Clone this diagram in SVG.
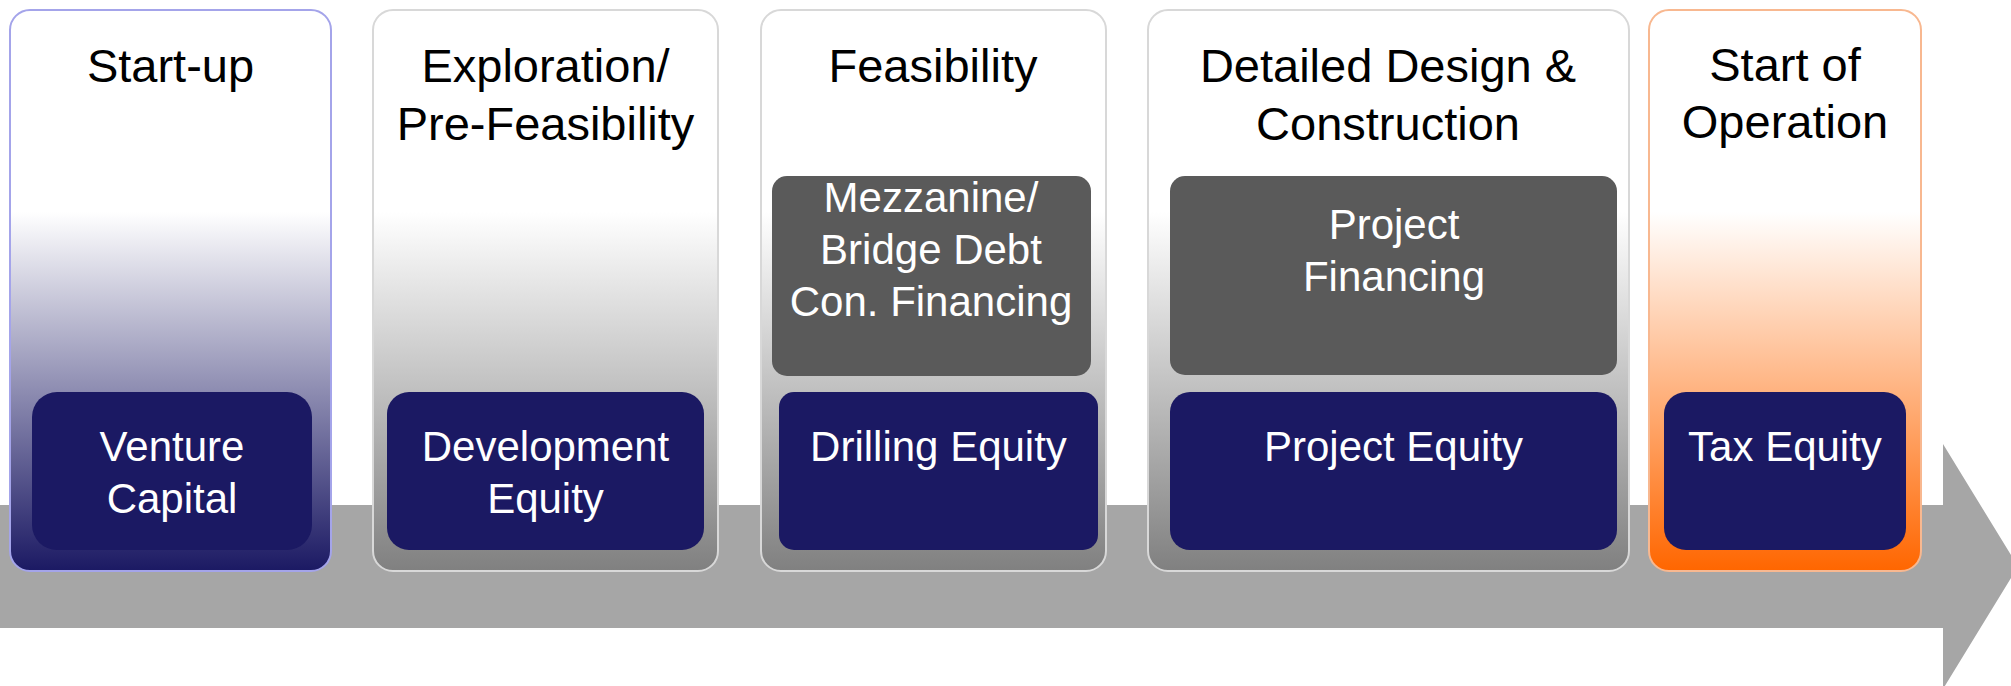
<svg xmlns="http://www.w3.org/2000/svg" width="2011" height="686" viewBox="0 0 2011 686">
  <style>
    .title { font-family: "Liberation Sans", Arial, sans-serif; font-size: 47px; fill: #000; text-anchor: middle; }
    .label { font-family: "Liberation Sans", Arial, sans-serif; font-size: 42px; fill: #fff; text-anchor: middle; }
    .card { stroke-width: 2; }
    .navy { fill: #1b1963; }
    .debt { fill: #5a5a5a; }
  </style>
  <defs>
    <linearGradient id="gNavy" x1="0" y1="0" x2="0" y2="1">
      <stop offset="0" stop-color="#ffffff"/>
      <stop offset="0.36" stop-color="#ffffff"/>
      <stop offset="1" stop-color="#1b1963"/>
    </linearGradient>
    <linearGradient id="gGray" x1="0" y1="0" x2="0" y2="1">
      <stop offset="0" stop-color="#ffffff"/>
      <stop offset="0.36" stop-color="#ffffff"/>
      <stop offset="1" stop-color="#808080"/>
    </linearGradient>
    <linearGradient id="gOrange" x1="0" y1="0" x2="0" y2="1">
      <stop offset="0" stop-color="#ffffff"/>
      <stop offset="0.36" stop-color="#ffffff"/>
      <stop offset="1" stop-color="#ff6600"/>
    </linearGradient>
  </defs>

  <!-- timeline arrow -->
  <g id="connectors">
    <path d="M0 505 H1943 V444 L2018 566.5 L1943 689 V628 H0 Z" fill="#a6a6a6"/>
  </g>

  <g id="startup">
    <rect class="card" x="10" y="10" width="321" height="561" rx="20" fill="url(#gNavy)" stroke="#a4a4ea"/>
    <text class="title" x="170.5" y="82">Start-up</text>
    <rect class="navy" x="32" y="392" width="280" height="158" rx="25"/>
    <text class="label" x="172" y="461">Venture</text>
    <text class="label" x="172" y="513">Capital</text>
  </g>

  <g id="exploration">
    <rect class="card" x="373" y="10" width="345" height="561" rx="20" fill="url(#gGray)" stroke="#d8d8d8"/>
    <text class="title" x="545.5" y="82">Exploration/</text>
    <text class="title" x="545.5" y="140">Pre-Feasibility</text>
    <rect class="navy" x="387" y="392" width="317" height="158" rx="22"/>
    <text class="label" x="545.5" y="461">Development</text>
    <text class="label" x="545.5" y="513">Equity</text>
  </g>

  <g id="feasibility">
    <rect class="card" x="761" y="10" width="345" height="561" rx="20" fill="url(#gGray)" stroke="#d8d8d8"/>
    <text class="title" x="933" y="82">Feasibility</text>
    <rect class="debt" x="772" y="176" width="319" height="200" rx="15"/>
    <text class="label" x="931" y="212">Mezzanine/</text>
    <text class="label" x="931" y="264">Bridge Debt</text>
    <text class="label" x="931" y="316">Con. Financing</text>
    <rect class="navy" x="779" y="392" width="319" height="158" rx="15"/>
    <text class="label" x="938.5" y="461">Drilling Equity</text>
  </g>

  <g id="construction">
    <rect class="card" x="1148" y="10" width="481" height="561" rx="20" fill="url(#gGray)" stroke="#d8d8d8"/>
    <text class="title" x="1388" y="82">Detailed Design &amp;</text>
    <text class="title" x="1388" y="140">Construction</text>
    <rect class="debt" x="1170" y="176" width="447" height="199" rx="15"/>
    <text class="label" x="1394" y="239">Project</text>
    <text class="label" x="1394" y="291">Financing</text>
    <rect class="navy" x="1170" y="392" width="447" height="158" rx="20"/>
    <text class="label" x="1393.5" y="461">Project Equity</text>
  </g>

  <g id="operation">
    <rect class="card" x="1649" y="10" width="272" height="561" rx="20" fill="url(#gOrange)" stroke="#f8b890"/>
    <text class="title" x="1785" y="81">Start of</text>
    <text class="title" x="1785" y="138">Operation</text>
    <rect class="navy" x="1664" y="392" width="242" height="158" rx="22"/>
    <text class="label" x="1785" y="461">Tax Equity</text>
  </g>
</svg>
